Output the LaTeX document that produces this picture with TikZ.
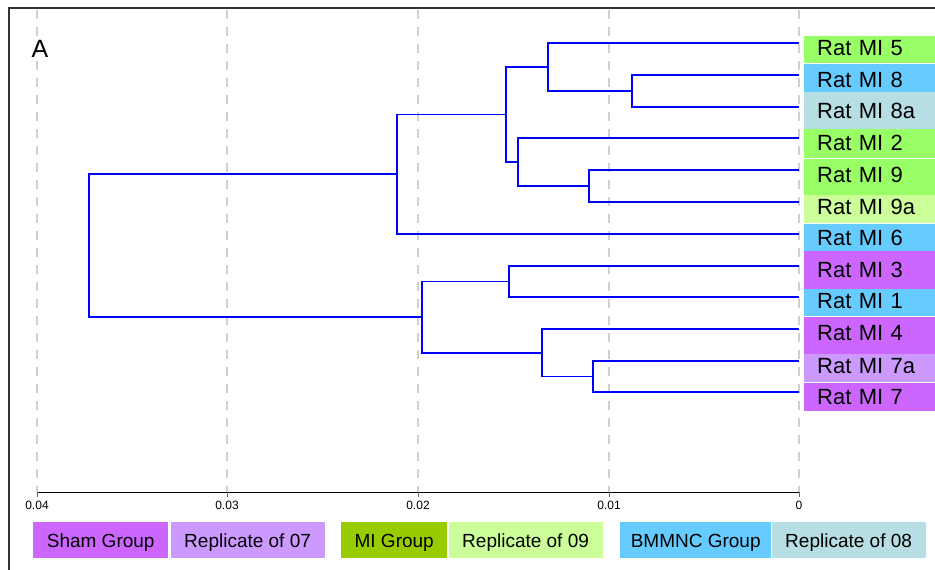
\documentclass[tikz,border=0pt]{standalone}
\usepackage{fontspec}
\setmainfont{Liberation Sans}
\usepackage{tikz}
\usetikzlibrary{positioning}
\definecolor{shamfill}{HTML}{CC66FF}
\definecolor{rep07fill}{HTML}{CC99FF}
\definecolor{migrpfill}{HTML}{99CC00}
\definecolor{mileaf}{HTML}{99FF66}
\definecolor{rep09fill}{HTML}{CCFF99}
\definecolor{bmmncfill}{HTML}{66CCFF}
\definecolor{rep08fill}{HTML}{B7DEE2}
\definecolor{gridgray}{HTML}{D0D0D0}

\begin{document}
\begin{tikzpicture}[x=1pt, y=-1pt,
  branch/.style={draw=blue, line width=1.1pt},
  gridline/.style={draw=gridgray, line width=2.2pt, dash pattern=on 9pt off 8pt},
  leaf/.style={anchor=north west, inner xsep=13pt, inner ysep=0pt, text width=105pt, align=left, text height=16pt, text depth=0pt, font=\fontsize{22}{24}\selectfont},
  legend/.style={anchor=north west, inner sep=0pt, minimum height=36pt, text height=14pt, text depth=0pt, font=\fontsize{19}{22}\selectfont},
  tick/.style={font=\fontsize{12}{14}\selectfont}
]
  \useasboundingbox (0,0) rectangle (935,570);

  % frame and grid
  \draw[black!80, line width=1.2pt] (9,570) -- (9,8) -- (935,8);
  \draw[gridline] (37,10) -- (37,492);
  \draw[gridline] (227,10) -- (227,492);
  \draw[gridline] (418,10) -- (418,492);
  \draw[gridline] (609,10) -- (609,492);
  \draw[gridline] (799,10) -- (799,492);

  \node[font=\fontsize{25}{28}\selectfont] (panel) at (40,49) {A};

  % axis
  \draw[black, line width=1pt] (37,492) -- (799,492);
  \node[tick] (t04) at (37,505) {0.04};
  \node[tick] (t03) at (227,505) {0.03};
  \node[tick] (t02) at (418,505) {0.02};
  \node[tick] (t01) at (609,505) {0.01};
  \node[tick] (t00) at (799,505) {0};
  \foreach \tx in {37,227,418,609,799}
    \draw[black!60, line width=1pt] (\tx,492) -- (\tx,497);

  % leaves
  \coordinate (l5) at (799,43);
  \coordinate (l8) at (799,75);
  \coordinate (l8a) at (799,107);
  \coordinate (l2) at (799,138);
  \coordinate (l9) at (799,170);
  \coordinate (l9a) at (799,202);
  \coordinate (l6) at (799,234);
  \coordinate (l3) at (799,266);
  \coordinate (l1) at (799,297);
  \coordinate (l4) at (799,329);
  \coordinate (l7a) at (799,361);
  \coordinate (l7) at (799,392);

  % merges
  \coordinate (m8) at (632,91);
  \coordinate (m5) at (548,67);
  \coordinate (m9) at (589,186);
  \coordinate (m2) at (518,162);
  \coordinate (mup) at (506,114.5);
  \coordinate (m6) at (397,174);
  \coordinate (m3) at (509,281.5);
  \coordinate (m7) at (593,376.5);
  \coordinate (m4) at (542,353);
  \coordinate (mlow) at (422,317);
  \coordinate (root) at (89,245.5);

  \draw[branch] (m8) |- (l8) (m8) |- (l8a);
  \draw[branch] (m5) |- (l5) (m5) |- (m8);
  \draw[branch] (m9) |- (l9) (m9) |- (l9a);
  \draw[branch] (m2) |- (l2) (m2) |- (m9);
  \draw[branch] (mup) |- (m5) (mup) |- (m2);
  \draw[branch] (m6) |- (mup) (m6) |- (l6);
  \draw[branch] (m3) |- (l3) (m3) |- (l1);
  \draw[branch] (m7) |- (l7a) (m7) |- (l7);
  \draw[branch] (m4) |- (l4) (m4) |- (m7);
  \draw[branch] (mlow) |- (m3) (mlow) |- (m4);
  \draw[branch] (root) |- (m6) (root) |- (mlow);

  % leaf labels
  \node[leaf, fill=mileaf, minimum height=27pt, text depth=5pt] (r5) at (804,36) {Rat MI 5};
  \node[leaf, fill=bmmncfill, minimum height=28pt, text height=19pt, below=0pt of r5] (r8) {Rat MI 8};
  \node[leaf, fill=rep08fill, minimum height=37pt, text depth=1pt, below=0pt of r8] (r8a) {Rat MI 8a};
  \node[leaf, fill=mileaf, minimum height=29pt, text depth=3pt, below=0pt of r8a] (r2) {Rat MI 2};
  \node[leaf, fill=mileaf, minimum height=36pt, text depth=5pt, below=0pt of r2] (r9) {Rat MI 9};
  \node[leaf, fill=rep09fill, minimum height=28pt, text depth=6pt, below=0pt of r9] (r9a) {Rat MI 9a};
  \node[leaf, fill=bmmncfill, minimum height=27pt, below=0pt of r9a] (r6) {Rat MI 6};
  \node[leaf, fill=shamfill, minimum height=38pt, text depth=2pt, below=0pt of r6] (r3) {Rat MI 3};
  \node[leaf, fill=bmmncfill, minimum height=27pt, text depth=4pt, below=0pt of r3] (r1) {Rat MI 1};
  \node[leaf, fill=shamfill, minimum height=37pt, text depth=5pt, below=0pt of r1] (r4) {Rat MI 4};
  \node[leaf, fill=rep07fill, minimum height=28pt, text depth=6pt, below=0pt of r4] (r7a) {Rat MI 7a};
  \node[leaf, fill=shamfill, minimum height=28pt, text depth=1pt, below=0pt of r7a] (r7) {Rat MI 7};

  % legend
  \node[legend, fill=shamfill, minimum width=135pt] (sham) at (33,522) {Sham Group};
  \node[legend, fill=rep07fill, minimum width=154pt, right=2pt of sham] (rep07) {Replicate of 07};
  \node[legend, fill=migrpfill, minimum width=106pt] (migrp) at (341,522) {MI Group};
  \node[legend, fill=rep09fill, minimum width=154pt, right=1pt of migrp] (rep09) {Replicate of 09};
  \node[legend, fill=bmmncfill, minimum width=151pt] (bmmnc) at (620,522) {BMMNC Group};
  \node[legend, fill=rep08fill, minimum width=154pt, right=0pt of bmmnc] (rep08) {Replicate of 08};
\end{tikzpicture}
\end{document}
